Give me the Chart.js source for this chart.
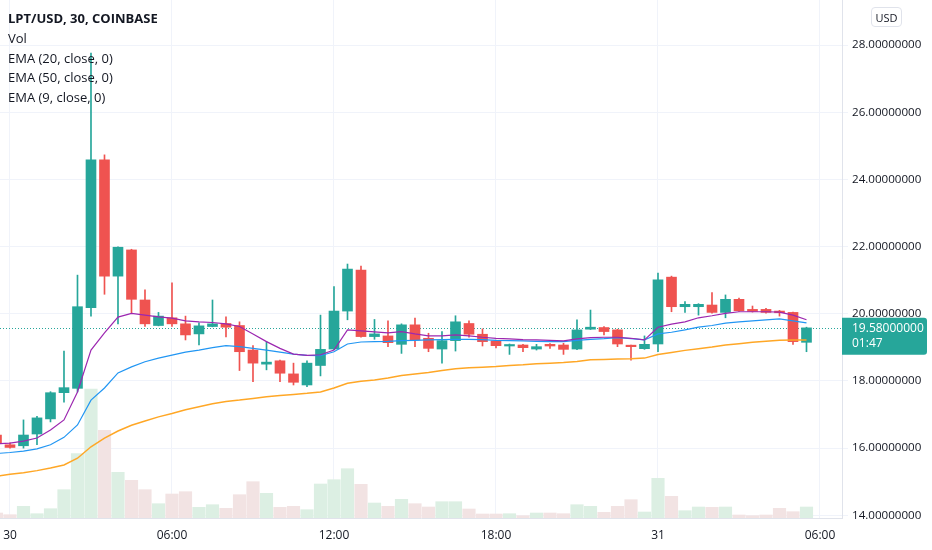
<!DOCTYPE html>
<html>
<head>
<meta charset="utf-8">
<script src="https://cdn.jsdelivr.net/npm/chart.js@4.4.0/dist/chart.umd.min.js"></script>
<style>
html,body{margin:0;padding:0;background:#fff;overflow:hidden;}
#wrap{position:relative;width:932px;height:550px;}
#c{position:absolute;left:0;top:0;}
.leg{position:absolute;left:8px;font-family:'Open Sans',sans-serif;font-size:13px;color:#131722;line-height:20px;white-space:nowrap;}
#usd{position:absolute;left:871px;top:7px;width:31px;height:20px;border:1px solid #e0e3eb;border-radius:4px;box-sizing:border-box;font-family:'Open Sans',sans-serif;font-size:11px;color:#131722;display:flex;align-items:center;justify-content:center;}
</style>
</head>
<body>
<div id="wrap">
<canvas id="c" width="932" height="550"></canvas>
<div class="leg" style="top:8px;font-weight:700">LPT/USD, 30, COINBASE</div>
<div class="leg" style="top:28px">Vol</div>
<div class="leg" style="top:48px">EMA (20, close, 0)</div>
<div class="leg" style="top:67px">EMA (50, close, 0)</div>
<div class="leg" style="top:87px">EMA (9, close, 0)</div>
<div id="usd">USD</div>
</div>
<script>
// 30-minute candles, from 23:30 on the 29th to 05:30 on the 31st
const opens  = [16.39,16.10,16.07,16.42,16.87,17.65,17.78,20.18,24.58,21.12,21.90,20.41,19.65,19.88,19.70,19.40,19.62,19.71,19.65,18.92,18.50,18.60,18.21,17.88,18.46,18.95,20.08,21.30,19.32,19.34,19.09,19.67,19.27,18.95,19.20,19.71,19.39,19.19,19.04,19.07,18.95,19.09,19.07,18.95,19.54,19.59,19.52,19.05,18.96,19.10,21.09,20.21,20.21,20.26,20.04,20.43,20.13,20.13,20.08,20.04,19.15];
const highs  = [16.45,16.16,16.84,16.95,17.68,18.89,21.15,27.76,24.73,21.99,21.92,20.71,20.04,20.92,19.93,19.73,20.41,19.91,19.76,19.05,19.17,18.62,18.53,18.60,19.96,20.81,21.48,21.42,19.83,19.79,19.70,19.87,19.42,19.47,19.94,19.79,19.55,19.22,19.10,19.09,19.09,19.11,19.12,19.82,20.11,19.62,19.54,19.07,19.34,21.21,21.12,20.36,20.30,20.63,20.56,20.47,20.23,20.16,20.10,20.05,19.60];
const lows   = [16.10,16.00,16.00,16.10,16.78,17.37,17.67,19.93,20.58,19.70,20.02,19.62,19.64,19.62,19.22,19.07,19.61,19.31,18.31,17.98,18.33,17.98,17.88,17.83,18.15,18.93,19.82,19.30,19.24,19.02,18.82,19.02,18.87,18.53,18.89,19.30,19.04,18.98,18.79,18.87,18.92,18.97,18.79,18.93,19.53,19.37,19.02,18.62,18.94,18.87,20.06,20.04,19.96,20.02,19.88,20.07,20.05,20.02,19.93,19.09,18.87];
const closes = [16.15,16.02,16.39,16.90,17.65,17.80,20.21,24.58,21.12,21.98,20.43,19.70,19.93,19.70,19.37,19.64,19.70,19.60,18.87,18.53,18.56,18.23,17.96,18.53,18.94,20.08,21.33,19.32,19.40,19.14,19.67,19.22,18.97,19.20,19.76,19.39,19.17,19.05,19.08,18.99,19.02,19.04,18.94,19.52,19.60,19.47,19.10,19.02,19.09,21.01,20.21,20.28,20.28,20.04,20.43,20.09,20.07,20.04,20.03,19.17,19.58];
const volumes = [5,3.3,11.7,4.3,9.3,28.3,64.3,129,87.7,45.7,37.7,28.3,14.3,24,26.3,10.7,13.3,9.7,23.3,36.3,24.7,10.7,11.7,8.3,34,38.3,49.3,33.7,15,11.7,18.7,14.3,11,16.3,16.3,9,4,4,4.3,2.3,5,5,4.3,13.3,11.7,5.7,11.7,18.3,6,39.7,21.7,7.3,11,10.7,11,3,2.3,3,9.7,6.3,11];
const ema9  = [16.13,16.15,16.21,16.30,16.54,16.84,17.67,18.92,19.43,19.90,20.01,19.96,19.91,19.87,19.79,19.76,19.74,19.70,19.62,19.40,19.17,18.97,18.80,18.76,18.78,18.92,19.52,19.49,19.46,19.43,19.47,19.40,19.34,19.34,19.37,19.34,19.30,19.27,19.25,19.23,19.22,19.21,19.19,19.25,19.29,19.30,19.30,19.27,19.22,19.60,19.69,19.76,19.88,19.94,20.01,20.06,20.06,20.06,20.05,19.96,19.82];
const ema20 = [15.84,15.87,15.91,15.98,16.10,16.32,16.69,17.43,17.79,18.24,18.42,18.57,18.68,18.77,18.86,18.92,18.99,19.05,19.02,18.97,18.92,18.86,18.80,18.76,18.75,18.87,19.10,19.16,19.17,19.18,19.20,19.21,19.22,19.23,19.24,19.24,19.23,19.21,19.20,19.19,19.18,19.17,19.17,19.21,19.24,19.26,19.29,19.26,19.22,19.40,19.45,19.52,19.60,19.65,19.72,19.76,19.79,19.82,19.85,19.79,19.73];
const ema50 = [15.16,15.22,15.27,15.33,15.41,15.50,15.70,16.04,16.30,16.51,16.68,16.81,16.93,17.03,17.14,17.23,17.32,17.39,17.43,17.48,17.53,17.57,17.60,17.63,17.67,17.79,17.93,17.99,18.03,18.09,18.16,18.21,18.25,18.31,18.36,18.39,18.41,18.43,18.46,18.48,18.51,18.53,18.55,18.58,18.63,18.64,18.65,18.66,18.68,18.79,18.85,18.91,18.96,19.01,19.07,19.11,19.15,19.18,19.21,19.22,19.22];
const priceTicks = [14,16,18,20,22,24,26,28];
const timeTickIdx = [0,12,24,36,48,60];
const timeTickLabels = ['30','06:00','12:00','18:00','31','06:00'];
const countdown = '01:47';

const GREEN = '#26a69a', RED = '#ef5350';
const VOLG = '#dcefe3', VOLR = '#f2e3e3';
const idx = opens.map((_, k) => k - 1);
const up = closes.map((c, k) => c >= opens[k]);
const last = closes[closes.length - 1];
const FONT = "'Open Sans', sans-serif";

const lastPricePlugin = {
  id: 'lastPrice',
  beforeDatasetsDraw(chart) {
    const {ctx, chartArea, scales} = chart;
    const y = Math.round(scales.y.getPixelForValue(last)) + 0.5;
    ctx.save();
    ctx.strokeStyle = GREEN; ctx.lineWidth = 1; ctx.setLineDash([1, 2]);
    ctx.beginPath(); ctx.moveTo(chartArea.left, y); ctx.lineTo(chartArea.right, y); ctx.stroke();
    ctx.restore();
  },
  afterDraw(chart) {
    const {ctx, chartArea, scales} = chart;
    const y = scales.y.getPixelForValue(last);
    const x0 = chartArea.right;
    ctx.save();
    ctx.fillStyle = GREEN;
    ctx.beginPath();
    ctx.roundRect(x0, y - 10, 85, 37, [0, 3, 3, 0]);
    ctx.fill();
    ctx.fillStyle = '#ffffff';
    ctx.font = '12px ' + FONT;
    ctx.textBaseline = 'middle';
    ctx.textAlign = 'left';
    ctx.fillText(last.toFixed(8), x0 + 10, y + 1);
    ctx.fillText(countdown, x0 + 10, y + 16);
    ctx.restore();
  }
};

new Chart(document.getElementById('c'), {
  type: 'bar',
  data: {
    datasets: [
      { type: 'bar', label: 'Vol', yAxisID: 'yv', order: 10, grouped: false,
        data: volumes.map((v, k) => ({x: idx[k], y: v})),
        backgroundColor: up.map(u => u ? VOLG : VOLR), barThickness: 12.5 },
      { type: 'bar', label: 'wick', yAxisID: 'y', order: 6, grouped: false,
        data: highs.map((h, k) => ({x: idx[k], y: [lows[k], h]})),
        backgroundColor: up.map(u => u ? GREEN : RED), barThickness: 1 },
      { type: 'bar', label: 'body', yAxisID: 'y', order: 5, grouped: false, minBarLength: 1.5,
        data: opens.map((o, k) => ({x: idx[k], y: [o, closes[k]]})),
        backgroundColor: up.map(u => u ? GREEN : RED), barThickness: 10 },
      { type: 'line', label: 'EMA 50', yAxisID: 'y', order: 3,
        data: ema50.map((v, k) => ({x: idx[k], y: v})),
        borderColor: '#ffa726', borderWidth: 1.5, pointRadius: 0, tension: 0, fill: false },
      { type: 'line', label: 'EMA 20', yAxisID: 'y', order: 2,
        data: ema20.map((v, k) => ({x: idx[k], y: v})),
        borderColor: '#2196f3', borderWidth: 1.2, pointRadius: 0, tension: 0, fill: false },
      { type: 'line', label: 'EMA 9', yAxisID: 'y', order: 1,
        data: ema9.map((v, k) => ({x: idx[k], y: v})),
        borderColor: '#9c27b0', borderWidth: 1.2, pointRadius: 0, tension: 0, fill: false }
    ]
  },
  options: {
    responsive: false,
    animation: false,
    events: [],
    layout: { padding: 0 },
    plugins: { legend: { display: false }, tooltip: { enabled: false } },
    scales: {
      x: {
        type: 'linear', position: 'bottom', min: -0.74, max: 61.63, bounds: 'data', offset: false,
        afterBuildTicks: (s) => { s.ticks = timeTickIdx.map(v => ({value: v})); },
        afterFit: (s) => { s.height = 32; s.paddingLeft = 0; s.paddingRight = 0; },
        grid: { color: '#f0f3fa', drawTicks: false, offset: false },
        border: { display: true, color: '#e0e3eb' },
        ticks: { padding: 10, color: '#131722', font: { family: FONT, size: 12 }, maxRotation: 0, autoSkip: false,
                 callback: (v, i) => timeTickLabels[i] }
      },
      y: {
        type: 'linear', position: 'right', min: 13.92, max: 29.34, bounds: 'data',
        afterBuildTicks: (s) => { s.ticks = priceTicks.map(v => ({value: v})); },
        afterFit: (s) => { s.width = 90; s.paddingTop = 0; s.paddingBottom = 0; },
        grid: { color: '#f0f3fa', drawTicks: true, tickLength: 6 },
        border: { display: true, color: '#e0e3eb' },
        ticks: { padding: 4, color: '#131722', font: { family: FONT, size: 11.6 }, autoSkip: false,
                 callback: (v) => Number(v).toFixed(8) }
      },
      yv: { type: 'linear', display: false, min: 0, max: 518 }
    }
  },
  plugins: [lastPricePlugin]
});
</script>
</body>
</html>
